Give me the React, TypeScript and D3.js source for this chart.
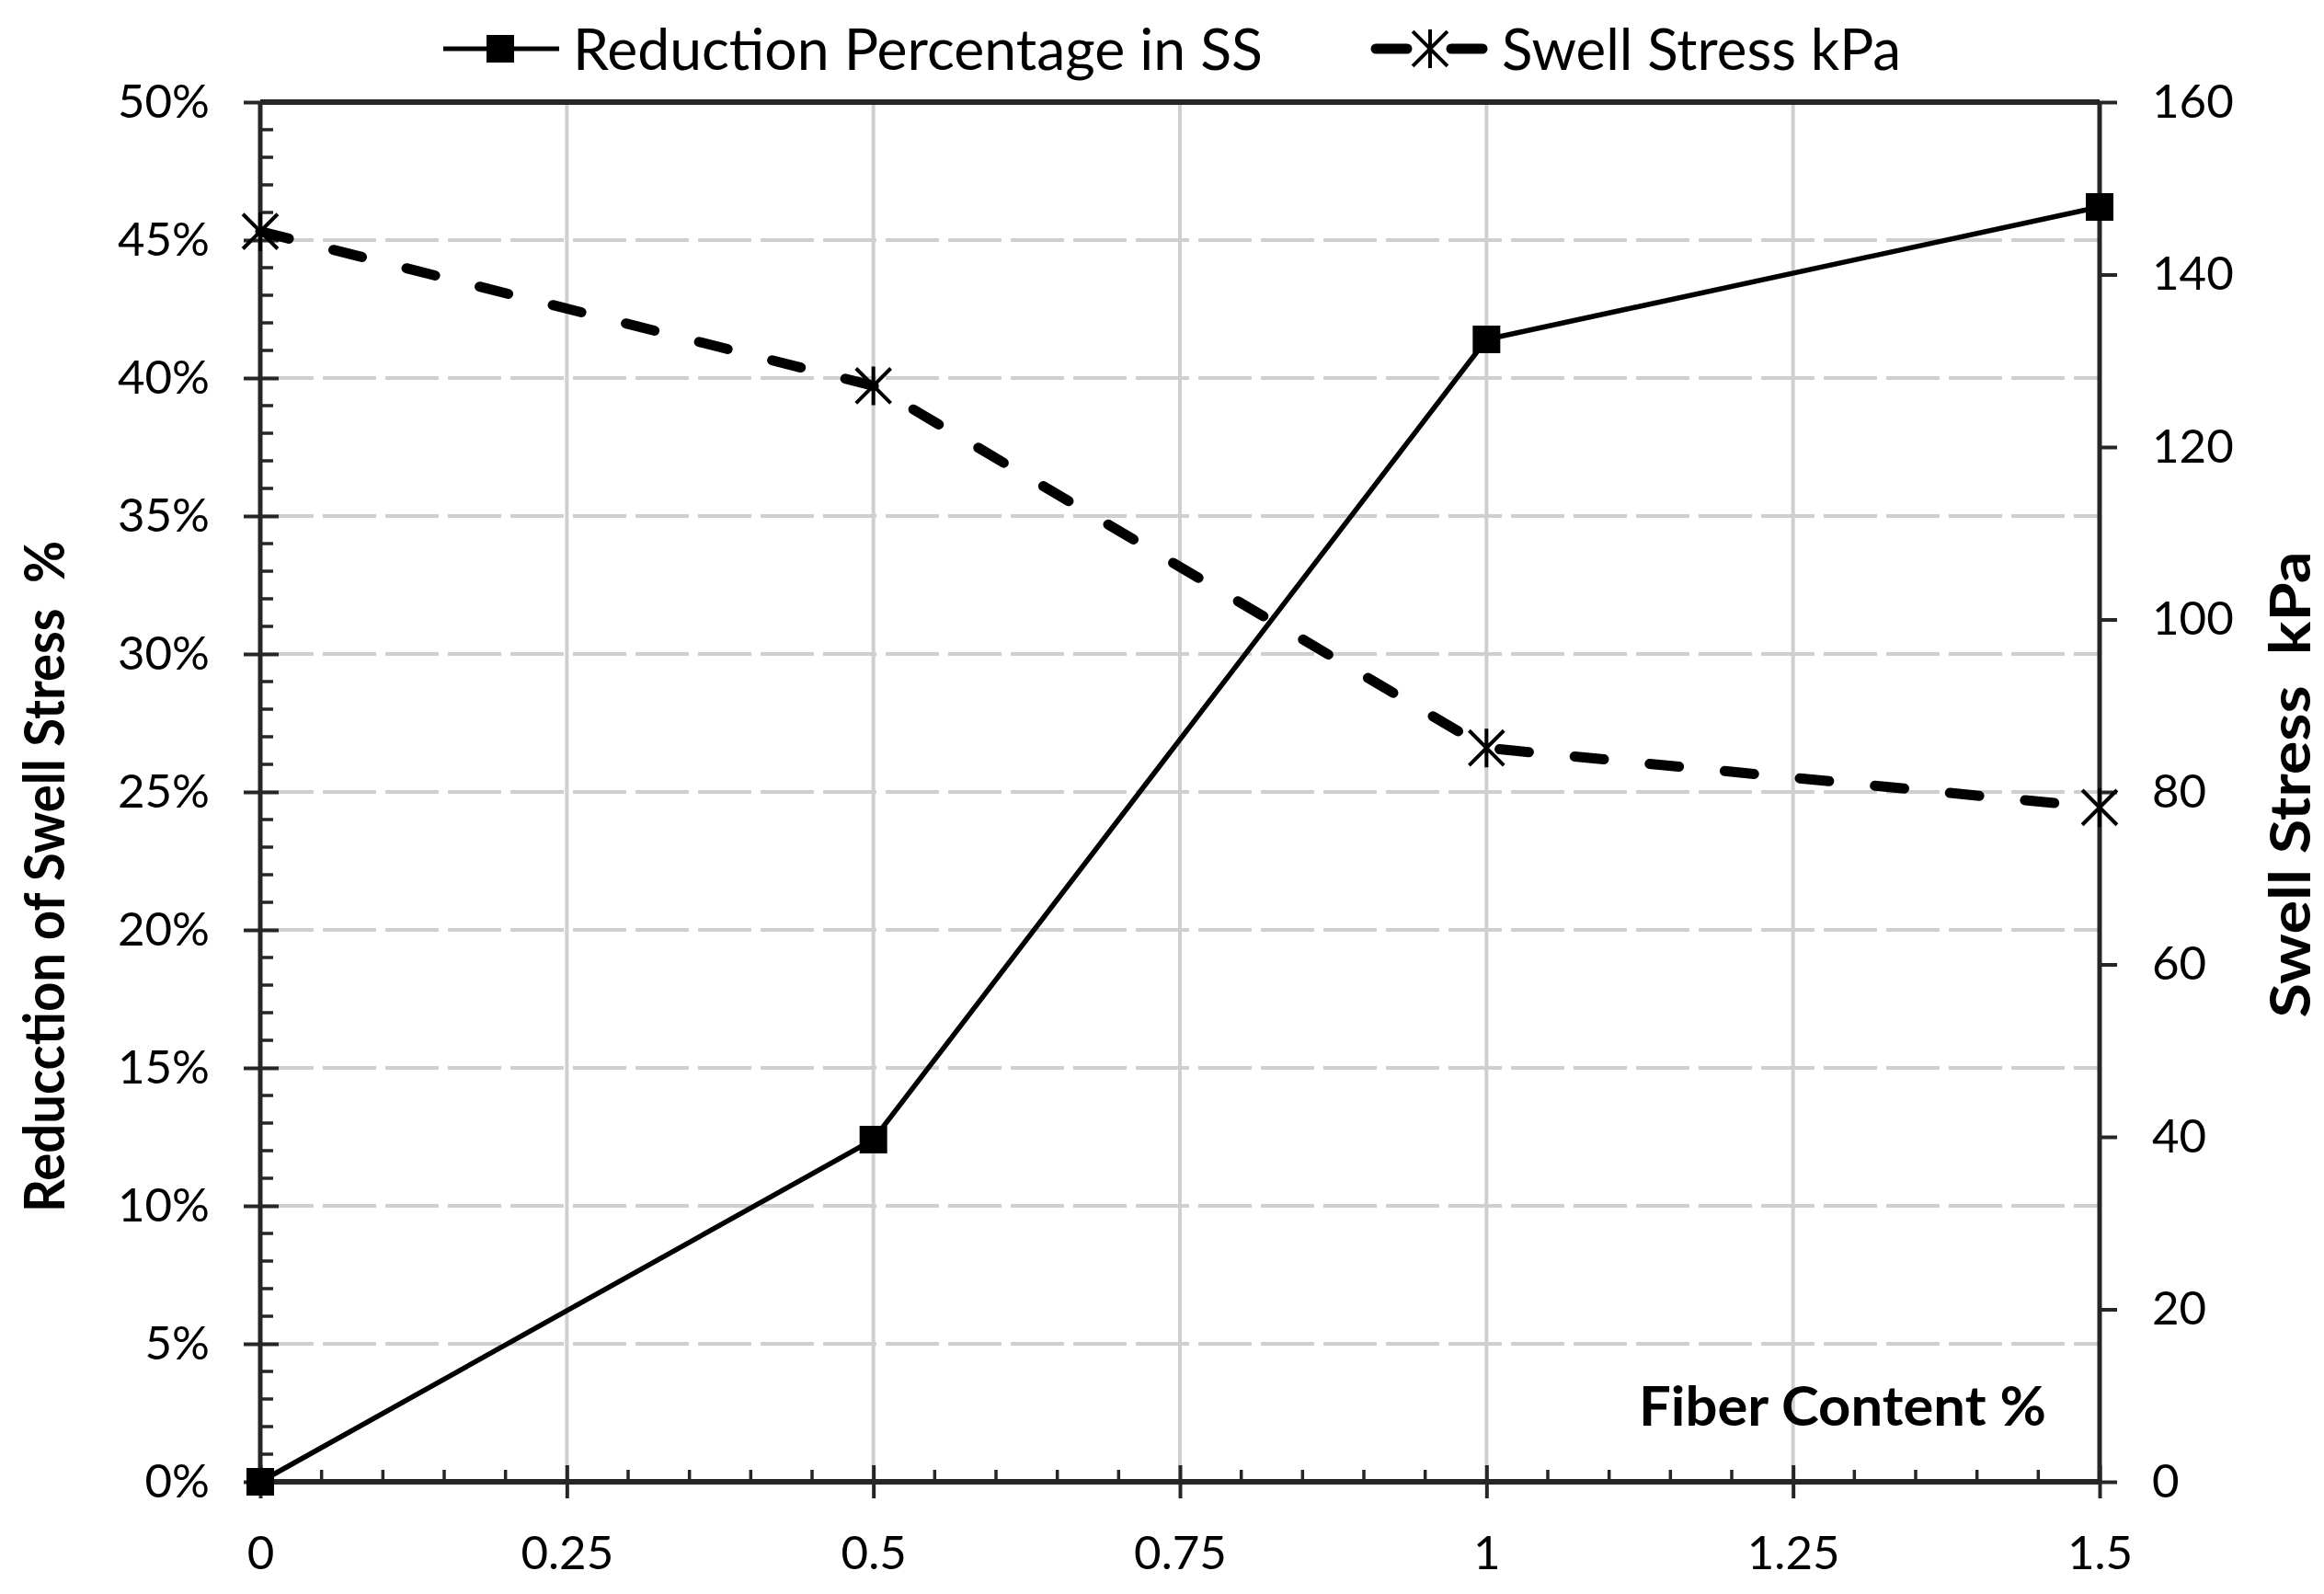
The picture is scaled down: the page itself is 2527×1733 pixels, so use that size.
import { useEffect, useRef } from 'react';
import * as d3 from 'd3';

// Fiber content (x) and the two series
const fiberContent = [0, 0.5, 1, 1.5];
const reductionPct = [0, 0.124, 0.414, 0.462];
const swellStress = [145.0, 127.1, 85.1, 78.2];

const xTicks = [0, 0.25, 0.5, 0.75, 1, 1.25, 1.5];
const xTickLabels = ['0', '0.25', '0.5', '0.75', '1', '1.25', '1.5'];
const leftTicks = [0, 0.05, 0.1, 0.15, 0.2, 0.25, 0.3, 0.35, 0.4, 0.45, 0.5];
const rightTicks = [0, 20, 40, 60, 80, 100, 120, 140, 160];

const legendLabels = ['Reduction Percentage in SS', 'Swell Stress kPa'];
const leftTitle = 'Reducction of Swell Stress  %';
const rightTitle = 'Swell Stress  kPa';
const xTitle = 'Fiber Content %';

const W = 2527;
const H = 1733;
const FONT = 'Lato, "Liberation Sans", Arial, sans-serif';
const AXIS = '#262626';
const GRID = '#cfcfcf';

export default function App() {
  const svgRef = useRef<SVGSVGElement>(null);

  useEffect(() => {
    if (!svgRef.current) return;
    document.body.style.margin = '0';

    const svg = d3.select(svgRef.current);
    svg.selectAll('*').remove();

    const x0 = 283, x1 = 2283, y0 = 111, y1 = 1611;

    const x = d3.scaleLinear().domain([0, 1.5]).range([x0, x1]);
    const yL = d3.scaleLinear().domain([0, 0.5]).range([y1, y0]);
    const yR = d3.scaleLinear().domain([0, 160]).range([y1, y0]);

    svg.append('rect').attr('width', W).attr('height', H).attr('fill', '#fff');

    // Grid
    const grid = svg.append('g');
    grid.selectAll('line.h')
      .data(leftTicks.filter(t => t > 0 && t < 0.5))
      .enter()
      .append('line')
      .attr('x1', x0).attr('x2', x1)
      .attr('y1', d => yL(d)).attr('y2', d => yL(d))
      .attr('stroke', GRID)
      .attr('stroke-width', 4)
      .attr('stroke-dasharray', '58 10');

    grid.selectAll('line.v')
      .data(xTicks.filter(t => t > 0 && t < 1.5))
      .enter()
      .append('line')
      .attr('x1', d => x(d)).attr('x2', d => x(d))
      .attr('y1', y0).attr('y2', y1)
      .attr('stroke', GRID)
      .attr('stroke-width', 4);

    // Minor ticks
    const minorLeft = d3.range(0, 51).map(i => i / 100).filter((_, i) => i % 5 !== 0);
    svg.append('g').selectAll('line')
      .data(minorLeft)
      .enter()
      .append('line')
      .attr('x1', x0).attr('x2', x0 + 14)
      .attr('y1', d => yL(d)).attr('y2', d => yL(d))
      .attr('stroke', AXIS).attr('stroke-width', 3.5);

    const minorBottom = d3.range(0, 31).map(i => i / 20).filter((_, i) => i % 5 !== 0);
    svg.append('g').selectAll('line')
      .data(minorBottom)
      .enter()
      .append('line')
      .attr('x1', d => x(d)).attr('x2', d => x(d))
      .attr('y1', y1).attr('y2', y1 - 13)
      .attr('stroke', AXIS).attr('stroke-width', 3.5);

    // Axes
    const styleText = (g: any, size: number) => {
      g.selectAll('.tick text')
        .attr('font-size', size)
        .attr('font-family', FONT)
        .attr('fill', '#000');
    };

    const left = svg.append('g')
      .attr('transform', `translate(${x0},0)`)
      .call(d3.axisLeft(yL).tickValues(leftTicks).tickFormat(d3.format('.0%') as any).tickSize(18).tickPadding(37));
    left.select('.domain').remove();
    left.selectAll('.tick line').attr('x1', 20).attr('stroke', AXIS).attr('stroke-width', 4);
    styleText(left, 51);

    const right = svg.append('g')
      .attr('transform', `translate(${x1},0)`)
      .call(d3.axisRight(yR).tickValues(rightTicks).tickSize(19).tickPadding(38));
    right.select('.domain').remove();
    right.selectAll('.tick line').attr('stroke', AXIS).attr('stroke-width', 4);
    styleText(right, 51);

    const bottom = svg.append('g')
      .attr('transform', `translate(0,${y1})`)
      .call(d3.axisBottom(x).tickValues(xTicks).tickFormat((_, i) => xTickLabels[i]).tickSize(18).tickPadding(41));
    bottom.select('.domain').remove();
    bottom.selectAll('.tick line').attr('y1', -18).attr('stroke', AXIS).attr('stroke-width', 4);
    styleText(bottom, 51);

    // Frame lines
    svg.append('line').attr('x1', x0).attr('x2', x1).attr('y1', y0).attr('y2', y0)
      .attr('stroke', AXIS).attr('stroke-width', 6);
    svg.append('line').attr('x1', x0).attr('x2', x1).attr('y1', y1).attr('y2', y1)
      .attr('stroke', AXIS).attr('stroke-width', 6);
    svg.append('line').attr('x1', x0).attr('x2', x0).attr('y1', y0).attr('y2', y1)
      .attr('stroke', AXIS).attr('stroke-width', 5);
    svg.append('line').attr('x1', x1).attr('x2', x1).attr('y1', y0).attr('y2', y1)
      .attr('stroke', AXIS).attr('stroke-width', 5);

    // Series
    const swellData = fiberContent.map((f, i) => [f, swellStress[i]] as [number, number]);
    const redData = fiberContent.map((f, i) => [f, reductionPct[i]] as [number, number]);

    svg.append('path')
      .datum(swellData)
      .attr('d', d3.line<[number, number]>().x(d => x(d[0])).y(d => yR(d[1])))
      .attr('fill', 'none')
      .attr('stroke', '#000')
      .attr('stroke-width', 11)
      .attr('stroke-linecap', 'round')
      .attr('stroke-dasharray', '32 50');

    svg.append('path')
      .datum(redData)
      .attr('d', d3.line<[number, number]>().x(d => x(d[0])).y(d => yL(d[1])))
      .attr('fill', 'none')
      .attr('stroke', '#000')
      .attr('stroke-width', 5.5);

    const asterisk = {
      draw(ctx: any, size: number) {
        const r = Math.sqrt(size) / 2;
        const k = r * 0.9;
        ctx.moveTo(0, -r); ctx.lineTo(0, r);
        ctx.moveTo(-k, -k); ctx.lineTo(k, k);
        ctx.moveTo(-k, k); ctx.lineTo(k, -k);
      }
    };
    const starPath = d3.symbol(asterisk as any, 42 * 42)();
    const squarePath = d3.symbol(d3.symbolSquare, 30 * 30)();

    svg.append('g').selectAll('path')
      .data(swellData)
      .enter()
      .append('path')
      .attr('transform', d => `translate(${x(d[0])},${yR(d[1])})`)
      .attr('d', starPath)
      .attr('fill', 'none')
      .attr('stroke', '#000')
      .attr('stroke-width', 4);

    svg.append('g').selectAll('path')
      .data(redData)
      .enter()
      .append('path')
      .attr('transform', d => `translate(${x(d[0])},${yL(d[1])})`)
      .attr('d', squarePath)
      .attr('fill', '#000');

    // Legend
    const legY = 53;
    const leg = svg.append('g');
    leg.append('line').attr('x1', 482).attr('x2', 608).attr('y1', legY).attr('y2', legY)
      .attr('stroke', '#000').attr('stroke-width', 5);
    leg.append('path').attr('transform', `translate(544,${legY})`).attr('d', squarePath).attr('fill', '#000');
    leg.append('text').attr('x', 623).attr('y', 76)
      .attr('font-family', FONT).attr('font-size', 61)
      .attr('textLength', 750).attr('lengthAdjust', 'spacingAndGlyphs')
      .text(legendLabels[0]);

    [[1496, 1530], [1578, 1612]].forEach(([a, b]) => {
      leg.append('line').attr('x1', a).attr('x2', b).attr('y1', legY).attr('y2', legY)
        .attr('stroke', '#000').attr('stroke-width', 11).attr('stroke-linecap', 'round');
    });
    leg.append('path').attr('transform', `translate(1555,${legY})`).attr('d', starPath)
      .attr('fill', 'none').attr('stroke', '#000').attr('stroke-width', 4);
    leg.append('text').attr('x', 1633).attr('y', 76)
      .attr('font-family', FONT).attr('font-size', 61)
      .attr('textLength', 434).attr('lengthAdjust', 'spacingAndGlyphs')
      .text(legendLabels[1]);

    // Titles
    svg.append('text')
      .attr('transform', `translate(70,953) rotate(-90)`)
      .attr('text-anchor', 'middle')
      .attr('font-family', FONT).attr('font-weight', 'bold').attr('font-size', 62)
      .attr('textLength', 730).attr('lengthAdjust', 'spacingAndGlyphs')
      .style('white-space', 'pre')
      .text(leftTitle);

    svg.append('text')
      .attr('transform', `translate(2512,853) rotate(-90)`)
      .attr('text-anchor', 'middle')
      .attr('font-family', FONT).attr('font-weight', 'bold').attr('font-size', 62)
      .attr('textLength', 507).attr('lengthAdjust', 'spacingAndGlyphs')
      .style('white-space', 'pre')
      .text(rightTitle);

    svg.append('text')
      .attr('x', 1782).attr('y', 1550)
      .attr('font-family', FONT).attr('font-weight', 'bold').attr('font-size', 60)
      .attr('textLength', 443).attr('lengthAdjust', 'spacingAndGlyphs')
      .text(xTitle);
  }, []);

  return <svg ref={svgRef} width={W} height={H} style={{ display: 'block' }} />;
}
